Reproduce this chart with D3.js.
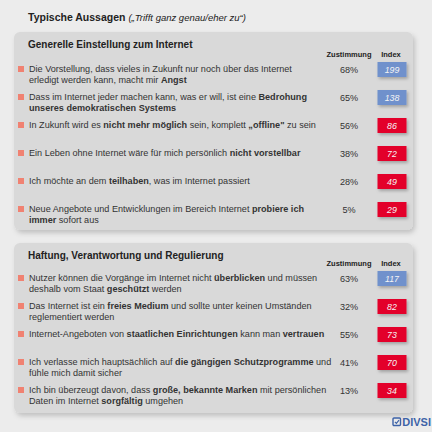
<!DOCTYPE html>
<html lang="de">
<head>
<meta charset="UTF-8">
<title>Typische Aussagen</title>
<script src="https://d3js.org/d3.v7.min.js"></script>
<style>
  body { margin: 0; background: #ececec; }
  svg { font-family: "Liberation Sans", Arial, sans-serif; }
</style>
</head>
<body>
<div id="chart"></div>
<script>
const w = 432, h = 432;

// panel titles
const sections = ["Generelle Einstellung zum Internet", "Haftung, Verantwortung und Regulierung"];

// statements, "|" = line break, **...** = bold
const statements1 = [
  "Die Vorstellung, dass vieles in Zukunft nur noch über das Internet|erledigt werden kann, macht mir **Angst**",
  "Dass im Internet jeder machen kann, was er will, ist eine **Bedrohung**|**unseres demokratischen Systems**",
  "In Zukunft wird es **nicht mehr möglich** sein, komplett **„offline\"** zu sein",
  "Ein Leben ohne Internet wäre für mich persönlich **nicht vorstellbar**",
  "Ich möchte an dem **teilhaben**, was im Internet passiert",
  "Neue Angebote und Entwicklungen im Bereich Internet **probiere ich**|**immer** sofort aus"
];
const zustimmung1 = [68, 65, 56, 38, 28, 5];
const index1 = [199, 138, 86, 72, 49, 29];

const statements2 = [
  "Nutzer können die Vorgänge im Internet nicht **überblicken** und müssen|deshalb vom Staat **geschützt** werden",
  "Das Internet ist ein **freies Medium** und sollte unter keinen Umständen|reglementiert werden",
  "Internet-Angeboten von **staatlichen Einrichtungen** kann man **vertrauen**",
  "Ich verlasse mich hauptsächlich auf **die gängigen Schutzprogramme** und|fühle mich damit sicher",
  "Ich bin überzeugt davon, dass **große, bekannte Marken** mit persönlichen|Daten im Internet **sorgfältig** umgehen"
];
const zustimmung2 = [63, 32, 55, 41, 13];
const index2 = [117, 82, 73, 70, 34];

const indexColour = d3.scaleThreshold().domain([100]).range(["#e3002b", "#6f91cc"]);

const svg = d3.select("#chart").append("svg")
  .attr("width", w).attr("height", h);

const defs = svg.append("defs");
const shadow = defs.append("filter").attr("id", "shadow")
  .attr("x", "-10%").attr("y", "-10%").attr("width", "130%").attr("height", "130%");
shadow.append("feDropShadow").attr("dx", 2).attr("dy", 3).attr("stdDeviation", 2.5)
  .attr("flood-color", "#000").attr("flood-opacity", 0.18);
const boxShadow = defs.append("filter").attr("id", "boxShadow")
  .attr("x", "-20%").attr("y", "-20%").attr("width", "160%").attr("height", "180%");
boxShadow.append("feDropShadow").attr("dx", 1.5).attr("dy", 2).attr("stdDeviation", 1.5)
  .attr("flood-color", "#000").attr("flood-opacity", 0.25);

// outer background
svg.append("rect").attr("width", w).attr("height", h).attr("fill", "#ececec");

// main title
const title = svg.append("text").attr("x", 28).attr("y", 21)
  .attr("font-size", 10.5).attr("fill", "#222");
title.append("tspan").attr("font-weight", "bold").text("Typische Aussagen ");
title.append("tspan").attr("font-style", "italic").attr("font-size", 9.5).text("(„Trifft ganz genau/eher zu“)");

// columns
const colZust = 349, colIndex = 391, boxW = 29, boxH = 15;

function richText(sel, str) {
  str.split("|").forEach((line, li) => {
    line.split(/(\*\*[^*]+\*\*)/).filter(s => s.length).forEach((part, pi) => {
      const bold = part.startsWith("**");
      const t = sel.append("tspan")
        .attr("font-weight", bold ? "bold" : "normal")
        .text(bold ? part.slice(2, -2) : part);
      if (pi === 0) t.attr("x", 29).attr("dy", li === 0 ? 0 : 11);
    });
  });
}

function panel(name, top, bottom, firstRow, statements, zust, index) {
  const g = svg.append("g");
  g.append("rect").attr("x", 14).attr("y", top).attr("width", 399).attr("height", bottom - top)
    .attr("rx", 6).attr("fill", "#d9d9d9").attr("filter", "url(#shadow)");

  g.append("text").attr("x", 28).attr("y", top + 16)
    .attr("font-size", 10).attr("font-weight", "bold").attr("fill", "#222").text(name);
  g.append("text").attr("x", colZust).attr("y", firstRow - 5).attr("text-anchor", "middle")
    .attr("font-size", 7.5).attr("font-weight", "bold").attr("fill", "#222").text("Zustimmung");
  g.append("text").attr("x", colIndex).attr("y", firstRow - 5).attr("text-anchor", "middle")
    .attr("font-size", 7.5).attr("font-weight", "bold").attr("fill", "#222").text("Index");

  const y = d3.scalePoint().domain(d3.range(statements.length))
    .range([firstRow, firstRow + 28 * (statements.length - 1)]);

  const rows = g.selectAll("g.row").data(statements.map((s, i) => ({ s, z: zust[i], idx: index[i], i })))
    .enter().append("g").attr("class", "row")
    .attr("transform", d => `translate(0,${y(d.i)})`);

  rows.append("rect").attr("x", 18).attr("y", 4).attr("width", 6).attr("height", 6).attr("fill", "#f08272");
  rows.append("text").attr("y", 10).attr("font-size", 9.1).attr("fill", "#333")
    .each(function (d) { richText(d3.select(this), d.s); });
  rows.append("text").attr("x", colZust).attr("y", 11).attr("text-anchor", "middle")
    .attr("font-size", 9.1).attr("fill", "#333").text(d => d.z + "%");
  rows.append("rect").attr("x", colIndex - boxW / 2 + 1).attr("y", 0)
    .attr("width", boxW).attr("height", boxH)
    .attr("fill", d => indexColour(d.idx)).attr("filter", "url(#boxShadow)");
  rows.append("text").attr("x", colIndex + 1).attr("y", 11).attr("text-anchor", "middle")
    .attr("font-size", 8.8).attr("font-style", "italic").attr("fill", "#f4f4f4").text(d => d.idx);
}

panel(sections[0], 32, 230, 62, statements1, zustimmung1, index1);
panel(sections[1], 243, 413, 271, statements2, zustimmung2, index2);

// logo
const logo = svg.append("g").attr("transform", "translate(393,418)");
logo.append("rect").attr("x", 0).attr("y", 0).attr("width", 7.5).attr("height", 7.5)
  .attr("rx", 1).attr("fill", "none").attr("stroke", "#3d63a8").attr("stroke-width", 1.4);
logo.append("path").attr("d", "M1.9,3.8 L3.4,5.3 L6,2.2").attr("fill", "none")
  .attr("stroke", "#3d63a8").attr("stroke-width", 1.2);
svg.append("text").attr("x", 431).attr("y", 426).attr("text-anchor", "end")
  .attr("font-size", 11).attr("font-weight", "bold")
  .attr("fill", "#3d63a8").text("DIVSI");
</script>
</body>
</html>
